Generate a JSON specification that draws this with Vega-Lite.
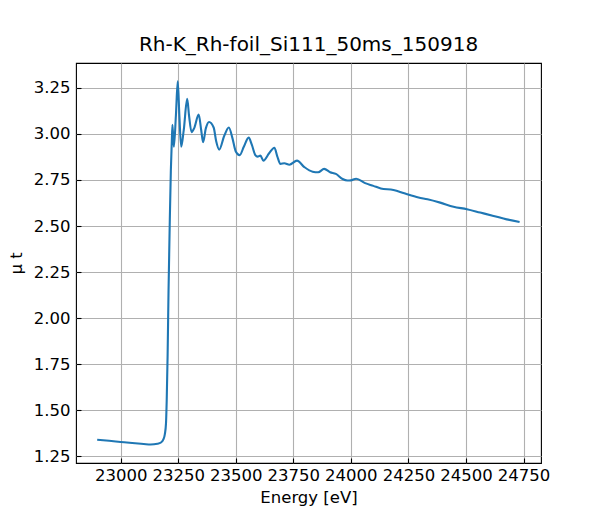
{
  "$schema": "https://vega.github.io/schema/vega-lite/v6.json",
  "width": 465,
  "height": 400,
  "autosize": {"type": "none"},
  "padding": {"left": 76, "top": 63, "right": 59, "bottom": 57},
  "background": "#ffffff",
  "title": {
    "text": "Rh-K_Rh-foil_Si111_50ms_150918",
    "font": "DejaVu Sans",
    "fontSize": 20,
    "fontWeight": "normal",
    "color": "#000000",
    "anchor": "middle",
    "offset": 8
  },
  "config": {
    "view": {"stroke": "#000000", "strokeWidth": 1.1},
    "axis": {
      "labelFont": "DejaVu Sans",
      "labelFontSize": 16.5,
      "labelColor": "#000000",
      "titleFont": "DejaVu Sans",
      "titleFontSize": 16.5,
      "titleFontWeight": "normal",
      "titleColor": "#000000",
      "domain": false,
      "tickColor": "#000000",
      "tickSize": -5,
      "tickWidth": 1.1,
      "gridColor": "#b0b0b0",
      "gridWidth": 1.1,
      "gridOpacity": 1
    }
  },
  "data": {
    "values": [
      {"energy": 22898, "mu": 1.340},
      {"energy": 22950, "mu": 1.334},
      {"energy": 23000, "mu": 1.328},
      {"energy": 23050, "mu": 1.322},
      {"energy": 23100, "mu": 1.317},
      {"energy": 23130, "mu": 1.314},
      {"energy": 23160, "mu": 1.318},
      {"energy": 23175, "mu": 1.325},
      {"energy": 23185, "mu": 1.340},
      {"energy": 23192, "mu": 1.370},
      {"energy": 23197, "mu": 1.430},
      {"energy": 23200, "mu": 1.550},
      {"energy": 23204, "mu": 1.800},
      {"energy": 23208, "mu": 2.150},
      {"energy": 23213, "mu": 2.500},
      {"energy": 23218, "mu": 2.800},
      {"energy": 23222, "mu": 2.950},
      {"energy": 23225, "mu": 3.050},
      {"energy": 23231, "mu": 2.930},
      {"energy": 23240, "mu": 3.100},
      {"energy": 23248, "mu": 3.285},
      {"energy": 23255, "mu": 3.100},
      {"energy": 23263, "mu": 2.930},
      {"energy": 23274, "mu": 3.020},
      {"energy": 23289, "mu": 3.190},
      {"energy": 23297, "mu": 3.100},
      {"energy": 23308, "mu": 3.010},
      {"energy": 23319, "mu": 3.030},
      {"energy": 23339, "mu": 3.105},
      {"energy": 23350, "mu": 3.020},
      {"energy": 23358, "mu": 2.955},
      {"energy": 23370, "mu": 3.030},
      {"energy": 23384, "mu": 3.065},
      {"energy": 23404, "mu": 3.035},
      {"energy": 23415, "mu": 2.960},
      {"energy": 23428, "mu": 2.915},
      {"energy": 23450, "mu": 2.990},
      {"energy": 23470, "mu": 3.035},
      {"energy": 23485, "mu": 2.980},
      {"energy": 23500, "mu": 2.905},
      {"energy": 23517, "mu": 2.885},
      {"energy": 23535, "mu": 2.930},
      {"energy": 23556, "mu": 2.980},
      {"energy": 23570, "mu": 2.940},
      {"energy": 23585, "mu": 2.885},
      {"energy": 23595, "mu": 2.877},
      {"energy": 23607, "mu": 2.882},
      {"energy": 23620, "mu": 2.855},
      {"energy": 23645, "mu": 2.895},
      {"energy": 23668, "mu": 2.925},
      {"energy": 23680, "mu": 2.880},
      {"energy": 23694, "mu": 2.837},
      {"energy": 23711, "mu": 2.841},
      {"energy": 23733, "mu": 2.833},
      {"energy": 23766, "mu": 2.855},
      {"energy": 23798, "mu": 2.820},
      {"energy": 23834, "mu": 2.795},
      {"energy": 23858, "mu": 2.792},
      {"energy": 23884, "mu": 2.810},
      {"energy": 23910, "mu": 2.792},
      {"energy": 23935, "mu": 2.783},
      {"energy": 23964, "mu": 2.755},
      {"energy": 23985, "mu": 2.747},
      {"energy": 24000, "mu": 2.748},
      {"energy": 24023, "mu": 2.757},
      {"energy": 24062, "mu": 2.733},
      {"energy": 24098, "mu": 2.718},
      {"energy": 24130, "mu": 2.704},
      {"energy": 24185, "mu": 2.696},
      {"energy": 24236, "mu": 2.676},
      {"energy": 24294, "mu": 2.655},
      {"energy": 24333, "mu": 2.645},
      {"energy": 24388, "mu": 2.627},
      {"energy": 24446, "mu": 2.605},
      {"energy": 24504, "mu": 2.591},
      {"energy": 24562, "mu": 2.573},
      {"energy": 24620, "mu": 2.555},
      {"energy": 24677, "mu": 2.536},
      {"energy": 24733, "mu": 2.522}
    ]
  },
  "mark": {"type": "line", "color": "#1f77b4", "strokeWidth": 2.1, "interpolate": "monotone"},
  "encoding": {
    "x": {
      "field": "energy",
      "type": "quantitative",
      "scale": {"domain": [22806, 24826], "nice": false, "zero": false},
      "axis": {
        "title": "Energy [eV]",
        "values": [23000, 23250, 23500, 23750, 24000, 24250, 24500, 24750],
        "format": "d",
        "labelPadding": 9,
        "titlePadding": 6
      }
    },
    "y": {
      "field": "mu",
      "type": "quantitative",
      "scale": {"domain": [1.2136, 3.385], "nice": false, "zero": false},
      "axis": {
        "title": "μ t",
        "values": [1.25, 1.5, 1.75, 2.0, 2.25, 2.5, 2.75, 3.0, 3.25],
        "format": ".2f",
        "labelPadding": 11,
        "titlePadding": 9
      }
    }
  }
}
